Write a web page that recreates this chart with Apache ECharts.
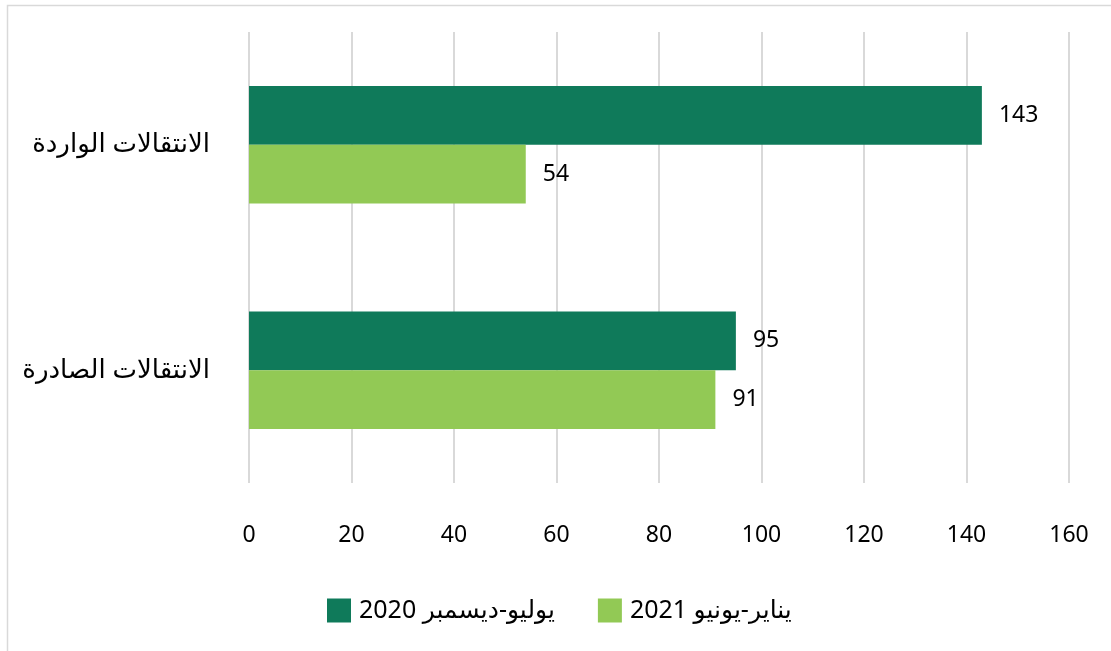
<!DOCTYPE html>
<html><head><meta charset="utf-8">
<script src="https://cdn.jsdelivr.net/npm/echarts@6/dist/echarts.min.js"></script>
<style>html,body{margin:0;padding:0;background:#fff}#c{width:1111px;height:651px}</style>
</head><body><div id="c"></div>
<script>
const categories = ['الانتقالات الواردة', 'الانتقالات الصادرة'];
const seriesNames = ['يوليو-ديسمبر 2020', 'يناير-يونيو 2021'];
const valuesH2020 = [143, 95];
const valuesH2021 = [54, 91];
const xTicks = [0, 20, 40, 60, 80, 100, 120, 140, 160];

const FONT = '"Noto Sans", "DejaVu Sans", sans-serif';
const chart = echarts.init(document.getElementById('c'));
chart.setOption({
  animation: false,
  textStyle: { fontFamily: FONT },
  graphic: [{
    type: 'rect', left: 5, top: 3, silent: true,
    shape: { width: 1200, height: 800 },
    style: { fill: 'none', stroke: '#d9d9d9', lineWidth: 1.5 }
  }],
  grid: { left: 249, right: 42, top: 32, bottom: 168 },
  xAxis: {
    type: 'value', min: xTicks[0], max: xTicks[xTicks.length - 1], interval: 20,
    axisLine: { show: false }, axisTick: { show: false },
    splitLine: { lineStyle: { color: '#d9d9d9', width: 2 } },
    axisLabel: { color: '#000', fontSize: 23, fontFamily: FONT, margin: 41 }
  },
  yAxis: {
    type: 'category', data: categories, inverse: true,
    axisLine: { show: false }, axisTick: { show: false },
    axisLabel: { color: '#000', fontSize: 26, fontFamily: FONT, margin: 39 }
  },
  legend: {
    left: 322, top: 593, itemWidth: 24, itemHeight: 24, itemGap: 43,
    icon: 'rect',
    textStyle: { color: '#000', fontSize: 25, fontFamily: FONT, padding: [0, 0, 0, 3] },
    data: seriesNames
  },
  series: [
    {
      name: seriesNames[0], type: 'bar', data: valuesH2020,
      barGap: '0%', barCategoryGap: '48%',
      itemStyle: { color: '#0f7a5a' },
      label: { show: true, position: 'right', distance: 17, color: '#000', fontSize: 23, fontFamily: FONT }
    },
    {
      name: seriesNames[1], type: 'bar', data: valuesH2021,
      barGap: '0%', barCategoryGap: '48%',
      itemStyle: { color: '#92c955' },
      label: { show: true, position: 'right', distance: 17, color: '#000', fontSize: 23, fontFamily: FONT }
    }
  ]
});
</script></body></html>
